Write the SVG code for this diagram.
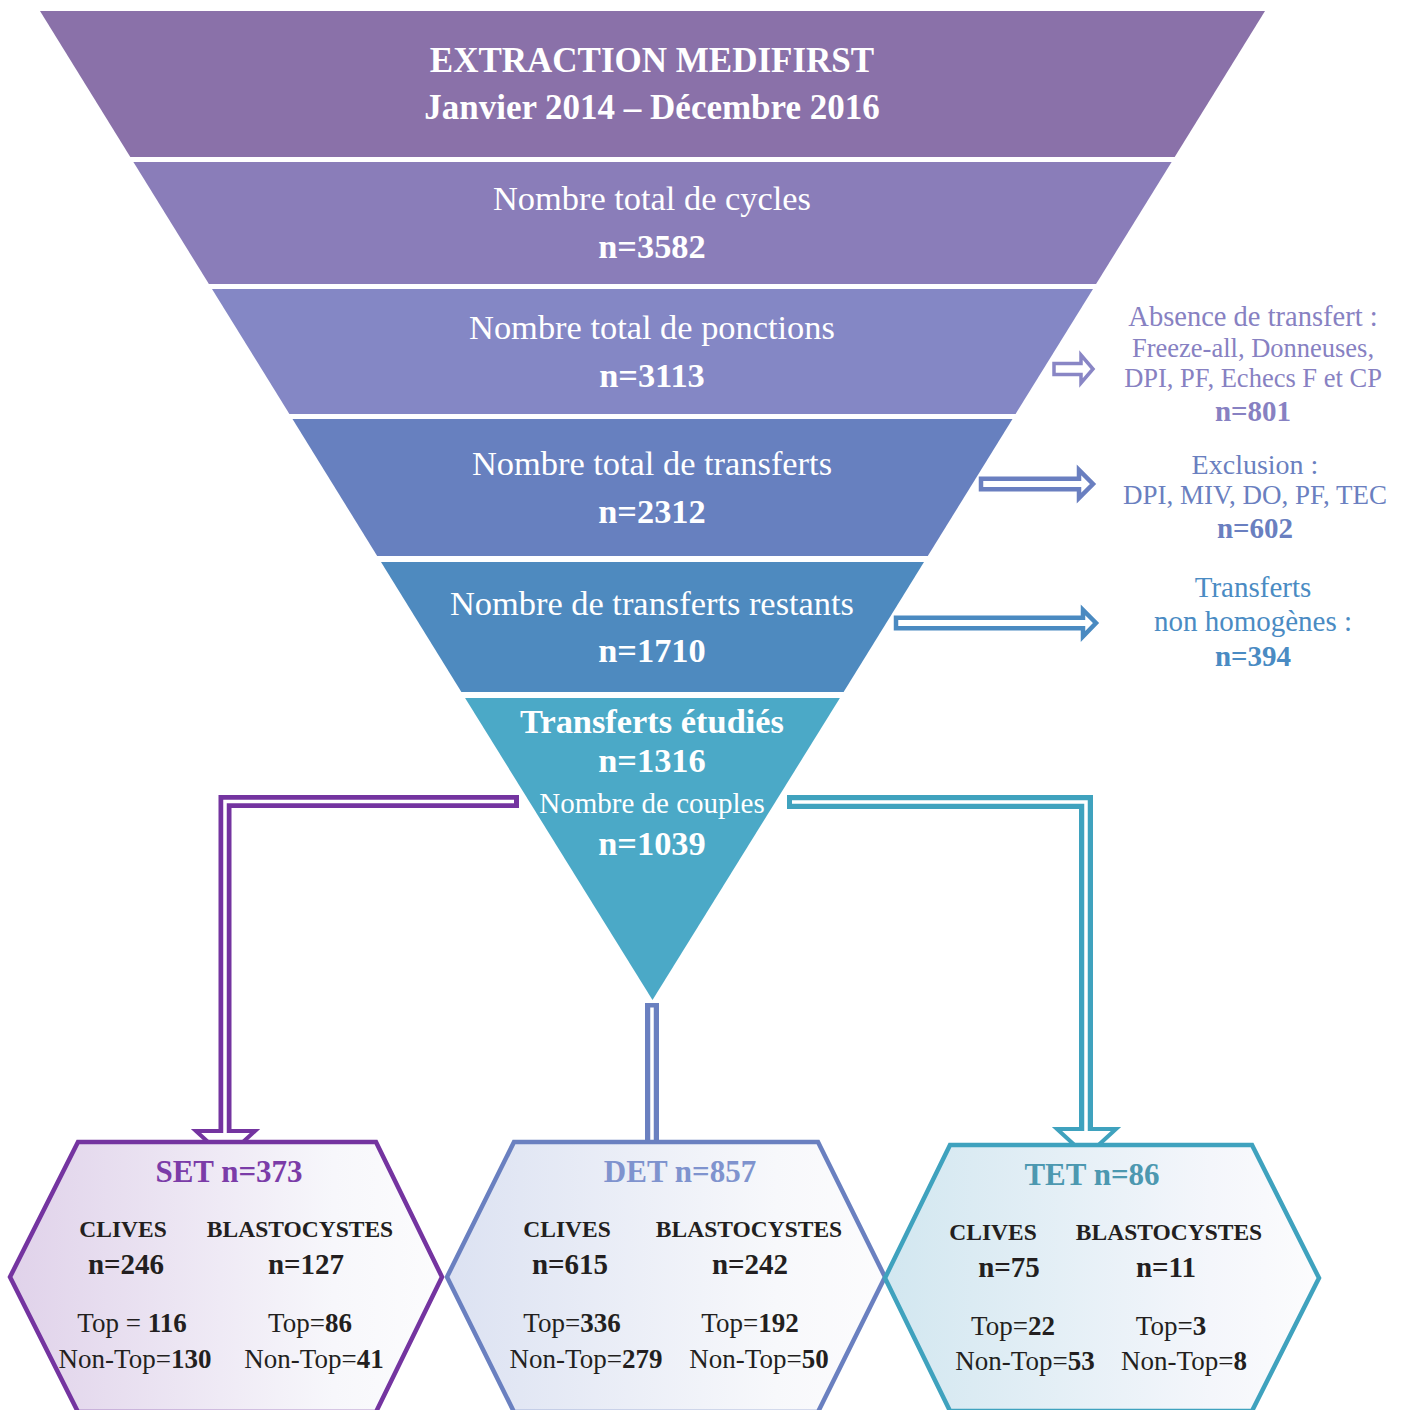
<svg xmlns="http://www.w3.org/2000/svg" width="1405" height="1410" viewBox="0 0 1405 1410">
<defs>
<style>
text{font-family:"Liberation Serif","Times New Roman",serif;text-anchor:middle}
.w{fill:#ffffff}
.b{font-weight:bold}
.ft{font-size:34.4px}
.hd{font-size:35px}
.dk{fill:#231F20}
.hh{font-size:31px;font-weight:bold}
.cat{font-size:23.5px;font-weight:bold}
.num{font-size:29px;font-weight:bold}
.tp{font-size:27px}
.r1{fill:#8781C2}
.r2{fill:#6A7FC0}
.r3{fill:#4A8BC3}
.conn-o{fill:none;stroke-linejoin:miter;stroke-linecap:butt}
.conn-i{fill:none;stroke:#ffffff;stroke-linejoin:miter;stroke-linecap:butt;stroke-width:3.5}
.ar{fill:#ffffff;stroke-linejoin:miter}
.hex{stroke-width:4.5;stroke-linejoin:miter}
</style>
<linearGradient id="gSet" x1="0" y1="0" x2="1" y2="0"><stop offset="0" stop-color="#E0D2EA"/><stop offset="0.75" stop-color="#F7F7FB"/><stop offset="1" stop-color="#FCFCFD"/></linearGradient>
<linearGradient id="gDet" x1="0" y1="0" x2="1" y2="0"><stop offset="0" stop-color="#DCE2F2"/><stop offset="0.75" stop-color="#F7F8FB"/><stop offset="1" stop-color="#FCFCFD"/></linearGradient>
<linearGradient id="gTet" x1="0" y1="0" x2="1" y2="0"><stop offset="0" stop-color="#D2E7F0"/><stop offset="0.75" stop-color="#F4F6FB"/><stop offset="1" stop-color="#FCFCFD"/></linearGradient>
</defs>
<rect width="1405" height="1410" fill="#ffffff"/>

<g id="funnel1">
<polygon points="40,11 1265,11 1174.7,157 130.3,157" fill="#8A71A9"/>
<text class="w b hd" x="652" y="72">EXTRACTION MEDIFIRST</text>
<text class="w b hd" x="652" y="119">Janvier 2014 – Décembre 2016</text>
</g>
<g id="funnel2">
<polygon points="133.4,162 1171.6,162 1096.1,284 208.9,284" fill="#8A7DB9"/>
<text class="w ft" x="652" y="210">Nombre total de cycles</text>
<text class="w b ft" x="652" y="258">n=3582</text>
</g>
<g id="funnel3">
<polygon points="212,289 1093,289 1015.6,414 289.4,414" fill="#8487C5"/>
<text class="w ft" x="652" y="339">Nombre total de ponctions</text>
<text class="w b ft" x="652" y="387">n=3113</text>
</g>
<g id="funnel4">
<polygon points="292.5,419 1012.5,419 927.8,556 377.2,556" fill="#6780BF"/>
<text class="w ft" x="652" y="475">Nombre total de transferts</text>
<text class="w b ft" x="652" y="523">n=2312</text>
</g>
<g id="funnel5">
<polygon points="381,562 924,562 843.6,692 461.4,692" fill="#4E8ABF"/>
<text class="w ft" x="652" y="615">Nombre de transferts restants</text>
<text class="w b ft" x="652" y="662">n=1710</text>
</g>
<g id="funnel6">
<polygon points="465.1,698 839.9,698 652.5,1000" fill="#4BA9C7"/>
<text class="w b ft" x="652" y="733">Transferts étudiés</text>
<text class="w b ft" x="652" y="772">n=1316</text>
<text class="w" x="652" y="813" font-size="29">Nombre de couples</text>
<text class="w b ft" x="652" y="855">n=1039</text>
</g>

<g id="side1">
<text class="r1" x="1253" y="326" font-size="28.5">Absence de transfert :</text>
<text class="r1" x="1253" y="357" font-size="26.5">Freeze-all, Donneuses,</text>
<text class="r1" x="1253" y="387" font-size="26.5">DPI, PF, Echecs F et CP</text>
<text class="r1 b" x="1253" y="421" font-size="29">n=801</text>
</g>
<g id="side2">
<text class="r2" x="1255" y="474" font-size="28">Exclusion :</text>
<text class="r2" x="1255" y="504" font-size="27">DPI, MIV, DO, PF, TEC</text>
<text class="r2 b" x="1255" y="538" font-size="29">n=602</text>
</g>
<g id="side3">
<text class="r3" x="1253" y="597" font-size="29">Transferts</text>
<text class="r3" x="1253" y="631" font-size="29">non homogènes :</text>
<text class="r3 b" x="1253" y="666" font-size="29">n=394</text>
</g>

<g id="connectors">
<polygon class="ar" stroke="#8986C5" stroke-width="3.5" points="1054,363.5 1081,363.5 1081,355 1093,369 1081,383 1081,374.5 1054,374.5"/>
<polygon class="ar" stroke="#6A7FC0" stroke-width="4.5" points="981,478.8 1079,478.8 1079,470 1093,484 1079,498 1079,489.2 981,489.2"/>
<polygon class="ar" stroke="#4A8AC1" stroke-width="4.5" points="896,617.8 1083,617.8 1083,610 1096,623 1083,636.5 1083,628.2 896,628.2"/>

<polygon class="ar" stroke="#7434A0" stroke-width="4" points="196,1131 255,1131 225.5,1158"/>
<path class="conn-o" stroke="#7434A0" stroke-width="13" d="M519,801.5 H225 V1131"/>
<path class="conn-i" d="M514,801.5 H225 V1134"/>

<path class="conn-o" stroke="#6A80C0" stroke-width="14" d="M652,1003 V1143"/>
<path class="conn-i" stroke-width="4" d="M652,1007.5 V1143"/>

<polygon class="ar" stroke="#3FA2BE" stroke-width="4" points="1057,1129 1116,1129 1086.5,1156"/>
<path class="conn-o" stroke="#3FA2BE" stroke-width="14" d="M787,802 H1086 V1129"/>
<path class="conn-i" d="M792,802 H1086 V1132"/>
</g>

<g id="SET">
<polygon class="hex" fill="url(#gSet)" stroke="#7434A0" points="78,1142 376,1142 442,1277 376,1412 78,1412 10,1277"/>
<text x="229" y="1182" class="hh" fill="#7B3CA8">SET n=373</text>
<text x="123" y="1237" class="cat dk">CLIVES</text>
<text x="300" y="1237" class="cat dk">BLASTOCYSTES</text>
<text x="126" y="1274" class="num dk">n=246</text>
<text x="306" y="1274" class="num dk">n=127</text>
<text x="132" y="1332" class="tp dk">Top = <tspan class="b">116</tspan></text>
<text x="310" y="1332" class="tp dk">Top=<tspan class="b">86</tspan></text>
<text x="135" y="1368" class="tp dk">Non-Top=<tspan class="b">130</tspan></text>
<text x="314" y="1368" class="tp dk">Non-Top=<tspan class="b">41</tspan></text>
</g>
<g id="DET">
<polygon class="hex" fill="url(#gDet)" stroke="#6A80C0" points="514,1142 818,1142 885,1277 818,1412 514,1412 447,1277"/>
<text x="680" y="1182" class="hh" fill="#7F93CE">DET n=857</text>
<text x="567" y="1237" class="cat dk">CLIVES</text>
<text x="749" y="1237" class="cat dk">BLASTOCYSTES</text>
<text x="570" y="1274" class="num dk">n=615</text>
<text x="750" y="1274" class="num dk">n=242</text>
<text x="572" y="1332" class="tp dk">Top=<tspan class="b">336</tspan></text>
<text x="750" y="1332" class="tp dk">Top=<tspan class="b">192</tspan></text>
<text x="586" y="1368" class="tp dk">Non-Top=<tspan class="b">279</tspan></text>
<text x="759" y="1368" class="tp dk">Non-Top=<tspan class="b">50</tspan></text>
</g>
<g id="TET">
<polygon class="hex" fill="url(#gTet)" stroke="#3FA2BE" points="950,1145 1252,1145 1319,1278 1252,1411 950,1411 885,1278"/>
<text x="1092" y="1185" class="hh" fill="#4C98B0">TET n=86</text>
<text x="993" y="1240" class="cat dk">CLIVES</text>
<text x="1169" y="1240" class="cat dk">BLASTOCYSTES</text>
<text x="1009" y="1277" class="num dk">n=75</text>
<text x="1166" y="1277" class="num dk">n=11</text>
<text x="1013" y="1335" class="tp dk">Top=<tspan class="b">22</tspan></text>
<text x="1171" y="1335" class="tp dk">Top=<tspan class="b">3</tspan></text>
<text x="1025" y="1370" class="tp dk">Non-Top=<tspan class="b">53</tspan></text>
<text x="1184" y="1370" class="tp dk">Non-Top=<tspan class="b">8</tspan></text>
</g>
</svg>
